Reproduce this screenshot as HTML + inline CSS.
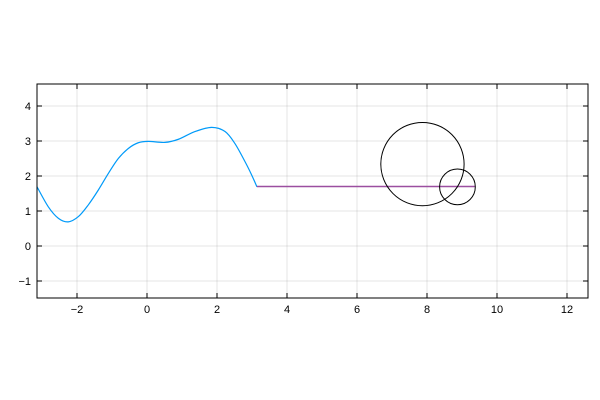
<!DOCTYPE html>
<html><head><meta charset="utf-8"><style>
body{margin:0;background:#fff}
svg{display:block;font-family:"Liberation Sans",sans-serif}
</style></head><body>
<svg id="chart" width="600" height="400">
<rect width="600" height="400" fill="#fff"/>
<g id="grid"></g>
<g id="series"></g>
<rect x="37" y="84" width="551" height="214" fill="none" stroke="#000" stroke-width="1"/>
<g id="ticks"></g>
</svg>
<script>
const curveX=[-3.1416,-2.82,-2.53,-2.25,-1.96,-1.68,-1.39,-1.1,-0.82,-0.53,-0.25,0.04,0.51,0.9,1.37,1.85,2.23,2.51,2.8,2.99,3.1416];
const curveY=[1.69,1.12,0.79,0.69,0.84,1.17,1.6,2.08,2.5,2.79,2.95,2.99,2.96,3.05,3.27,3.39,3.27,2.93,2.41,2.03,1.69];
const lineX=[3.14,9.37];
const lineY=[1.7,1.7];
const circles=[[7.87,2.34,1.19],[8.87,1.69,0.51]];
const xTicks=[-2,0,2,4,6,8,10,12];
const yTicks=[-1,0,1,2,3,4];
const X0=147,Y0=246,S=35;
const sx=v=>X0+v*S, sy=v=>Y0-v*S;
const NS='http://www.w3.org/2000/svg';
function mk(t,a,p){const e=document.createElementNS(NS,t);for(const k in a)e.setAttribute(k,a[k]);p.appendChild(e);return e;}
const grid=document.getElementById('grid'),ticks=document.getElementById('ticks'),ser=document.getElementById('series');
xTicks.forEach(v=>{
 const g=mk('line',{x1:sx(v),x2:sx(v),y1:84,y2:298,stroke:'#000','stroke-opacity':0.1},grid);
 
 
 mk('line',{x1:sx(v),x2:sx(v),y1:298,y2:293,stroke:'#000'},ticks);
 mk('line',{x1:sx(v),x2:sx(v),y1:84,y2:89,stroke:'#000'},ticks);
 const t=mk('text',{x:sx(v),y:313,'text-anchor':'middle','font-size':11},ticks);
 t.textContent=(v<0?'\u2212'+(-v):v);
 
 
});
yTicks.forEach(v=>{
 const g=mk('line',{x1:37,x2:588,y1:sy(v),y2:sy(v),stroke:'#000','stroke-opacity':0.1},grid);
 
 
 mk('line',{x1:37,x2:42,y1:sy(v),y2:sy(v),stroke:'#000'},ticks);
 mk('line',{x1:588,x2:583,y1:sy(v),y2:sy(v),stroke:'#000'},ticks);
 const t=mk('text',{x:31,y:sy(v)+4,'text-anchor':'end','font-size':11},ticks);
 t.textContent=(v<0?'\u2212'+(-v):v);
 
 
});
const P=curveX.map((x,i)=>[sx(x),sy(curveY[i])]);
let d='M'+P[0][0]+','+P[0][1];
for(let i=0;i<P.length-1;i++){
 const p0=P[Math.max(0,i-1)],p1=P[i],p2=P[i+1],p3=P[Math.min(P.length-1,i+2)];
 d+=' C'+(p1[0]+(p2[0]-p0[0])/6)+','+(p1[1]+(p2[1]-p0[1])/6)+' '+(p2[0]-(p3[0]-p1[0])/6)+','+(p2[1]-(p3[1]-p1[1])/6)+' '+p2[0]+','+p2[1];
}
const c=mk('path',{d:d,fill:'none',stroke:'#009af9','stroke-width':1.2},ser);


const l=mk('line',{x1:sx(lineX[0]),x2:sx(lineX[1]),y1:sy(lineY[0]),y2:sy(lineY[1]),stroke:'#9b4fa0','stroke-width':1.5},ser);


circles.forEach(k=>{
 const e=mk('circle',{cx:sx(k[0]),cy:sy(k[1]),r:k[2]*S,fill:'none',stroke:'#000','stroke-width':1},ser);
 
 
});
</script>
</body></html>
